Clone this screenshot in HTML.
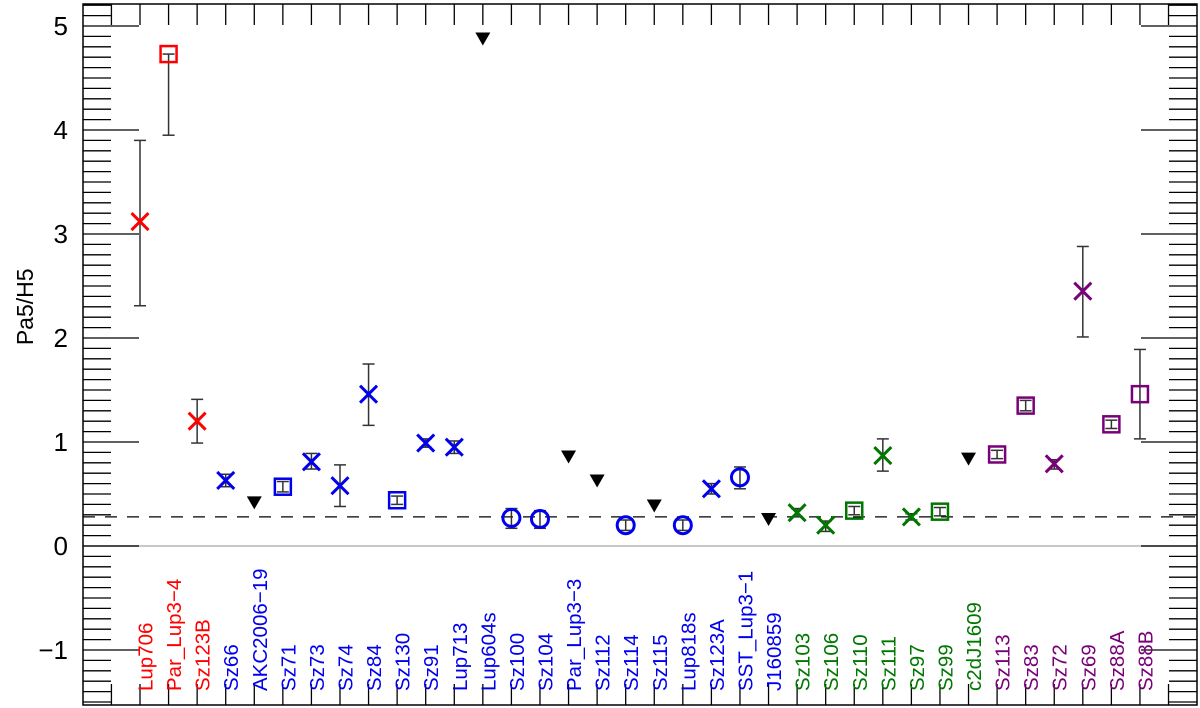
<!DOCTYPE html>
<html><head><meta charset="utf-8"><style>
html,body{margin:0;padding:0;background:#fff;}
svg{display:block;font-family:"Liberation Sans",sans-serif;}
</style></head><body>
<svg id="chart" width="1200" height="708"></svg>
<script>
const names=["Lup706","Par_Lup3\u22124","Sz123B","Sz66","AKC2006\u221219","Sz71","Sz73","Sz74","Sz84","Sz130","Sz91","Lup713","Lup604s","Sz100","Sz104","Par_Lup3\u22123","Sz112","Sz114","Sz115","Lup818s","Sz123A","SST_Lup3\u22121","J160859","Sz103","Sz106","Sz110","Sz111","Sz97","Sz99","c2dJ1609","Sz113","Sz83","Sz72","Sz69","Sz88A","Sz88B"];
const labelGroups=["red","red","red","blue","blue","blue","blue","blue","blue","blue","blue","blue","blue","blue","blue","blue","blue","blue","blue","blue","blue","blue","blue","green","green","green","green","green","green","green","purple","purple","purple","purple","purple","purple"];
const groups=["red","red","red","blue","black","blue","blue","blue","blue","blue","blue","blue","black","blue","blue","black","black","blue","black","blue","blue","blue","black","green","green","green","green","green","green","black","purple","purple","purple","purple","purple","purple"];
const markers=["x","sq","x","x","tri","sq","x","x","x","sq","x","x","tri","o","o","tri","tri","o","tri","o","x","o","tri","x","x","sq","x","x","sq","tri","sq","sq","x","x","sq","sq"];
const values=[3.12,4.73,1.20,0.63,0.42,0.57,0.81,0.58,1.46,0.44,0.99,0.95,4.88,0.27,0.26,0.86,0.63,0.20,0.39,0.20,0.55,0.66,0.26,0.32,0.20,0.34,0.87,0.28,0.33,0.84,0.88,1.35,0.79,2.45,1.17,1.46];
const errLo=[2.31,3.95,0.99,0.57,null,0.52,0.74,0.38,1.16,0.40,0.95,0.89,null,0.17,0.17,null,null,0.15,null,0.15,0.50,0.55,null,0.28,0.14,0.30,0.72,0.25,0.29,null,0.84,1.30,0.74,2.01,1.13,1.03];
const errHi=[3.90,4.73,1.41,0.69,null,0.62,0.89,0.78,1.75,0.48,1.03,1.01,null,0.36,0.34,null,null,0.25,null,0.25,0.60,0.76,null,0.36,0.24,0.38,1.03,0.31,0.37,null,0.92,1.40,0.83,2.88,1.21,1.89];
const yTicks=[-1,0,1,2,3,4,5];
const refLine=0.28;

const colors={red:"#ff0000",blue:"#0000ee",green:"#007700",purple:"#7a007a",black:"#000"};
const L=83,R=1197,T=4,B=705;
const xs=i=>140+i*28.57;
const ys=v=>546-v*104;
const NS="http://www.w3.org/2000/svg";
const svg=document.getElementById("chart");
function mk(tag,attrs,parent){const e=document.createElementNS(NS,tag);for(const k in attrs)e.setAttribute(k,attrs[k]);(parent||svg).appendChild(e);return e;}

let z=mk("line",{x1:L,x2:R,y1:ys(0),y2:ys(0),stroke:"#c8c8c8","stroke-width":2});


let d=mk("line",{x1:L,x2:R,y1:ys(refLine),y2:ys(refLine),stroke:"#000","stroke-width":1.3,"stroke-dasharray":"12,10"});



let fr=mk("rect",{x:L,y:T,width:R-L,height:B-T,fill:"none",stroke:"#000","stroke-width":1.5});



const yt=mk("g",{stroke:"#000","stroke-width":1.3});


for(let k=-15;k<=52;k++){const v=k/10;const y=ys(v);if(y<T||y>B)continue;const len=(k%10===0)?56:28;
mk("line",{x1:L,x2:L+len,y1:y,y2:y},yt);mk("line",{x1:R-len,x2:R,y1:y,y2:y},yt);}
yTicks.forEach(v=>{const t=mk("text",{x:68,y:ys(v)+9,"text-anchor":"end","font-size":26,fill:"#000"});t.textContent=(v<0?"\u2212":"")+Math.abs(v);

});
const yl=mk("text",{x:0,y:0,"font-size":23,"text-anchor":"middle",transform:`translate(33,${ys(2.3)}) rotate(-90)`});yl.textContent="Pa5/H5";



const xt=mk("g",{stroke:"#000","stroke-width":1.3});


for(let i=-1;i<=36;i++){const x=xs(i);if(x<=L+2||x>=R-2)continue;mk("line",{x1:x,x2:x,y1:T,y2:T+21},xt);mk("line",{x1:x,x2:x,y1:B,y2:B-21},xt);}

names.forEach((n,i)=>{const t=mk("text",{x:0,y:0,"font-size":20.5,fill:colors[labelGroups[i]],transform:`translate(${xs(i)+12.5},691) rotate(-90)`});t.textContent=n;

});

names.forEach((n,i)=>{
 const g=mk("g",{});
 
 
 const x=xs(i),y=ys(values[i]),c=colors[groups[i]];
 if(errLo[i]!==null){const y1=ys(errLo[i]),y2=ys(errHi[i]);
  mk("line",{x1:x,x2:x,y1:y1,y2:y2,stroke:"#333","stroke-width":1.5},g);
  mk("line",{x1:x-6,x2:x+6,y1:y1,y2:y1,stroke:"#333","stroke-width":1.5},g);
  mk("line",{x1:x-6,x2:x+6,y1:y2,y2:y2,stroke:"#333","stroke-width":1.5},g);}
 const m=markers[i];
 if(m==="x"){const s=8.5;mk("path",{d:`M${x-s},${y-s}L${x+s},${y+s}M${x-s},${y+s}L${x+s},${y-s}`,stroke:c,"stroke-width":3,fill:"none"},g);}
 else if(m==="sq"){mk("rect",{x:x-8,y:y-8,width:16,height:16,fill:"none",stroke:c,"stroke-width":2.5},g);}
 else if(m==="o"){mk("circle",{cx:x,cy:y,r:8.5,fill:"none",stroke:c,"stroke-width":3},g);}
 else {mk("path",{d:`M${x-7.5},${y-6}L${x+7.5},${y-6}L${x},${y+7}Z`,fill:"#000"},g);}
});
</script>
</body></html>
